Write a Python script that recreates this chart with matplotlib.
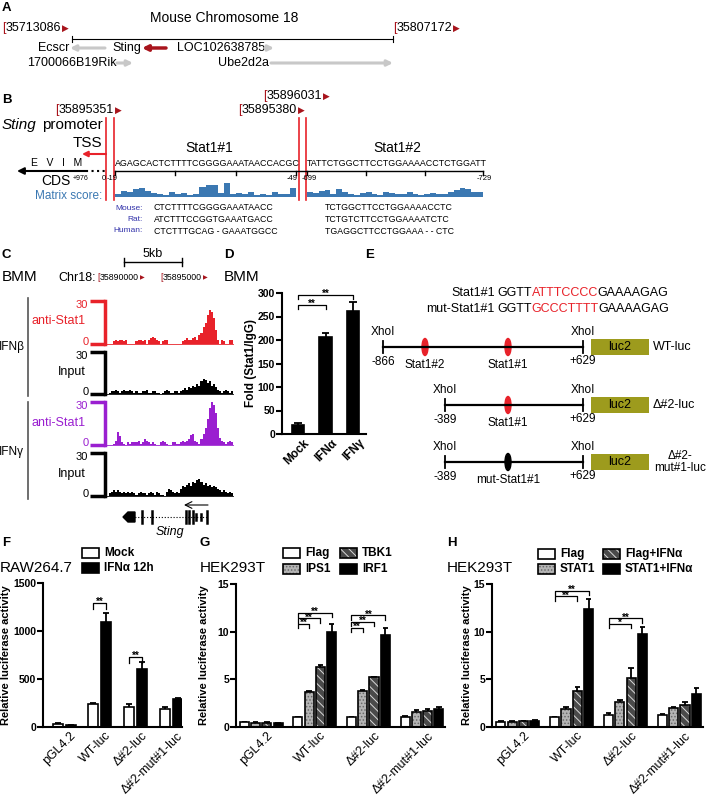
import numpy as np
import matplotlib
matplotlib.use('Agg')
import matplotlib.pyplot as plt
import matplotlib.patches as patches
import matplotlib.transforms as transforms

plt.rcParams['font.family'] = ['Liberation Sans', 'DejaVu Sans']
plt.rcParams['hatch.linewidth'] = 0.7

DRED = '#a8141c'
RED = '#e8222a'
BLUE = '#3b78b2'
PURPLE = '#9a1fd0'
GRAY = '#c8c8c8'
OLIVE = '#9d9b1d'
SPBLUE = '#3333aa'

#------------------------------ data
# panel A: genes around Sting on chr18
genes_A = ['Ecscr', 'Sting', 'LOC102638785', '1700066B19Rik', 'Ube2d2a']
genes_A_x = [38, 112, 177, 27, 218]
genes_A_y = [48, 48, 48, 63, 63]
genes_A_arrow = [(105, 70), (166, 142), (265, 274), (117, 133), (271, 393)]
genes_A_col = [GRAY, DRED, GRAY, GRAY, GRAY]

# panel B: matrix scores (relative) and sequences
score_site1 = [0.2, 0.35, 0.3, 0.5, 0.55, 0.35, 0.25, 0.2, 0.15, 0.3, 0.2, 0.25, 0.15, 0.2, 0.65,
               0.75, 0.75, 0.25, 0.85, 0.2, 0.25, 0.2, 0.3, 0.15, 0.2, 0.15, 0.3, 0.2, 0.2, 0.55]
score_site2 = [0.3, 0.25, 0.4, 0.45, 0.2, 0.5, 0.3, 0.2, 0.15, 0.25, 0.3, 0.2, 0.15, 0.3, 0.25,
               0.2, 0.2, 0.3, 0.2, 0.15, 0.2, 0.25, 0.2, 0.2, 0.3, 0.45, 0.55, 0.5, 0.3, 0.3]
seq_site1 = 'AGAGCACTCTTTTCGGGGAAATAACCACGC'
seq_site2 = 'TATTCTGGCTTCCTGGAAAACCTCTGGATT'
species = ['Mouse:', 'Rat:', 'Human:']
align_site1 = ['CTCTTTTCGGGGAAATAACC', 'ATCTTTCCGGTGAAATGACC', 'CTCTTTGCAG - GAAATGGCC']
align_site2 = ['TCTGGCTTCCTGGAAAACCTC', 'TCTGTCTTCCTGGAAAATCTC', 'TGAGGCTTCCTGGAAA - - CTC']

# panel C: ChIP-seq coverage (0-30)
chip_ifnb_stat1 = [0, 0, 0, 0, 2, 3, 2, 3, 3, 2, 3, 0, 0, 0, 0, 2, 3, 3, 2, 3, 0, 3, 4, 5, 4, 3, 2, 0, 2, 3, 3, 0,
                   0, 0, 0, 0, 0, 0, 2, 3, 4, 3, 3, 4, 5, 3, 6, 8, 12, 15, 20, 24, 22, 18, 10, 3, 0, 3, 2, 0, 0, 3, 3]
chip_ifnb_input = [0, 0, 1, 2, 2, 3, 2, 1, 2, 3, 2, 2, 3, 2, 1, 2, 1, 1, 2, 2, 3, 1, 1, 2, 2, 1, 1, 0, 1, 2, 3, 2,
                   1, 1, 2, 2, 1, 2, 3, 4, 3, 5, 4, 6, 5, 7, 6, 9, 11, 10, 8, 9, 6, 7, 5, 3, 2, 1, 2, 3, 2, 1, 2]
chip_ifng_stat1 = [0, 0, 0, 0, 1, 3, 9, 6, 2, 1, 0, 2, 1, 2, 2, 2, 3, 1, 2, 4, 3, 2, 1, 2, 1, 0, 0, 2, 3, 2, 1, 0,
                   0, 2, 2, 1, 1, 2, 3, 2, 3, 4, 7, 8, 3, 2, 1, 4, 8, 12, 18, 26, 30, 28, 22, 12, 5, 3, 2, 1, 2, 3, 2]
chip_ifng_input = [0, 0, 2, 3, 4, 3, 4, 3, 2, 3, 2, 3, 2, 3, 2, 1, 2, 3, 2, 2, 1, 2, 3, 2, 1, 3, 2, 1, 1, 0, 3, 5,
                   4, 3, 2, 3, 2, 5, 7, 6, 8, 9, 7, 10, 9, 11, 12, 10, 8, 9, 7, 8, 6, 7, 6, 5, 4, 3, 4, 3, 2, 3, 2]
sting_exons = [142, 152, 186, 189, 193, 196, 201, 207]

# panel D
cats_D = ['Mock', u'IFN\u03b1', u'IFN\u03b3']
fold_D = [20, 207, 262]
err_D = [3, 8, 18]

# panel E constructs
constr_names = ['WT-luc', u'\u0394#2-luc', u'\u0394#2-\nmut#1-luc']
constr_start = ['-866', '-389', '-389']

# panels F-H
reporters = ['pGL4.2', 'WT-luc', u'\u0394#2-luc', u'\u0394#2-mut#1-luc']
F_mock = [35, 235, 205, 185]
F_mock_err = [5, 20, 35, 25]
F_ifn = [20, 1090, 605, 295]
F_ifn_err = [3, 100, 70, 10]

G_flag = [0.5, 1.0, 1.0, 1.0]
G_flag_err = [0.05, 0.05, 0.05, 0.15]
G_ips1 = [0.45, 3.7, 3.8, 1.6]
G_ips1_err = [0.05, 0.1, 0.08, 0.2]
G_tbk1 = [0.45, 6.3, 5.2, 1.7]
G_tbk1_err = [0.05, 0.2, 0.05, 0.15]
G_irf1 = [0.4, 10.0, 9.6, 1.9]
G_irf1_err = [0.05, 0.8, 0.8, 0.25]

H_flag = [0.55, 1.0, 1.3, 1.3]
H_flag_err = [0.05, 0.05, 0.15, 0.1]
H_stat1 = [0.55, 1.9, 2.6, 2.0]
H_stat1_err = [0.05, 0.15, 0.25, 0.15]
H_flagifn = [0.6, 3.8, 5.1, 2.3]
H_flagifn_err = [0.05, 0.35, 1.1, 0.3]
H_stat1ifn = [0.65, 12.4, 9.8, 3.5]
H_stat1ifn_err = [0.05, 1.0, 0.7, 0.6]

#------------------------------ figure
W, H = 709, 798
fig = plt.figure(figsize=(W/100., H/100.), dpi=100)
ov = fig.add_axes([0, 0, 1, 1])
ov.set_xlim(0, W); ov.set_ylim(H, 0); ov.axis('off')
R = fig.canvas.get_renderer()

def px_axes(x0, y0, x1, y1):
    return fig.add_axes([x0/float(W), 1-y1/float(H), (x1-x0)/float(W), (y1-y0)/float(H)])

def txt(x, y, s, fs=9, **kw):
    kw.setdefault('va', 'center'); kw.setdefault('ha', 'left')
    return ov.text(x, y, s, fontsize=fs, **kw)

def pieces(x, y, parts, fs=9, **kw):
    for s, c in parts:
        t = txt(x, y, s, fs, color=c, **kw)
        x += t.get_window_extent(renderer=R).width
    return x

def coord(x, y, num, fs=9):
    x = pieces(x, y, [('[', DRED), (num, 'k')], fs)
    txt(x+1, y, u'\u25b6', fs*0.7, color=DRED, family='DejaVu Sans')

def arrow(x0, x1, y, c, lw=2, ms=8, style='-|>'):
    ov.annotate('', xy=(x1, y), xytext=(x0, y),
                arrowprops=dict(arrowstyle=style, color=c, lw=lw, shrinkA=0, shrinkB=0, mutation_scale=ms))

def letter(x, y, s):
    txt(x, y, s, 9.5, fontweight='bold')

#------------------------------ A
letter(2, 8, 'A')
txt(224, 18, 'Mouse Chromosome 18', 10, ha='center')
coord(2, 28, '35713086')
coord(393, 28, '35807172')
ov.plot([72, 393], [39, 39], 'k', lw=0.8)
for xx in (72, 393):
    ov.plot([xx, xx], [36, 42], 'k', lw=0.8)
for name, x, y, (a0, a1), c in zip(genes_A, genes_A_x, genes_A_y, genes_A_arrow, genes_A_col):
    txt(x, y, name, 9)
    arrow(a0, a1, y, c, lw=2.5 if c == DRED else 2.2, ms=8)

#------------------------------ B
letter(2, 100, 'B')
coord(263, 96, '35896031')
coord(55, 110, '35895351')
coord(238, 110, '35895380')
txt(2, 125, 'Sting', 11, style='italic')
txt(42, 125, 'promoter', 11)
txt(102, 143, 'TSS', 11, ha='right')
for xx in (106, 114, 299, 306):
    ov.plot([xx, xx], [118, 200], color=RED, lw=1.2)
arrow(106, 82, 154, RED, lw=1.5, ms=8)
txt(209, 148, 'Stat1#1', 10, ha='center')
txt(397, 148, 'Stat1#2', 10, ha='center')
txt(115, 164, seq_site1, 6.4)
txt(307, 164, seq_site2, 6.4)
ov.plot([115, 483], [171, 171], 'k', lw=1)
for xx in (115, 175, 236, 296, 307, 366, 425, 483):
    ov.plot([xx, xx], [171, 175], 'k', lw=1)
arrow(86, 17, 171, 'k', lw=1.5, ms=10)
ov.plot([86, 106], [171, 171], 'k', ls=':', lw=1.5)
txt(31, 163, 'E   V   I   M', 7.5)
txt(41, 181, 'CDS', 10)
txt(73, 178, '+976', 5)
txt(102, 179, '0', 5.5)
txt(107, 179, '-19', 5.5)
txt(298, 179, '-49', 5.5, ha='right')
txt(302, 179, '-699', 5.5)
txt(484, 179, '-729', 5.5, ha='center')
txt(35, 196, 'Matrix score:', 8.5, color=BLUE)
for sc, (x0, x1) in ((score_site1, (115, 296)), (score_site2, (307, 483))):
    axm = px_axes(x0, 181, x1, 197)
    axm.bar(np.arange(len(sc)), sc, width=1.0, color=BLUE, lw=0)
    axm.set_xlim(-0.5, len(sc)-0.5); axm.set_ylim(0, 1)
    axm.axis('off')
for i, sp in enumerate(species):
    y = 208 + i*11.5
    txt(143, y, sp, 6, color=SPBLUE, ha='right')
    txt(154, y, align_site1[i], 6.3)
    txt(325, y, align_site2[i], 6.3)

#------------------------------ C
letter(2, 255, 'C')
txt(153, 254, '5kb', 9, ha='center')
ov.plot([124, 182], [262, 262], 'k', lw=1)
for xx in (124, 182):
    ov.plot([xx, xx], [258, 266], 'k', lw=1)
txt(2, 277, 'BMM', 11)
txt(58, 278, 'Chr18:', 9)
coord(97, 278, '35890000', 6.3)
coord(160, 278, '35895000', 6.3)
ov.plot([28, 28], [298, 396], color='#555555', lw=1.2)
ov.plot([28, 28], [402, 499], color='#555555', lw=1.2)
txt(-1, 347, u'IFN\u03b2', 8.5)
txt(-1, 452, u'IFN\u03b3', 8.5)
tracks = [(chip_ifnb_stat1, RED, 'anti-Stat1', 301, 344),
          (chip_ifnb_input, 'k', 'Input', 352, 394),
          (chip_ifng_stat1, PURPLE, 'anti-Stat1', 402, 445),
          (chip_ifng_input, 'k', 'Input', 453, 496)]
up = transforms.ScaledTranslation(0, 2/72., fig.dpi_scale_trans)
down = transforms.ScaledTranslation(0, -2/72., fig.dpi_scale_trans)
for vals, c, lab, y0, y1 in tracks:
    ax = px_axes(105, y0, 233, y1)
    n = len(vals)
    ax.bar(np.arange(n), vals, width=1.0, color=c, lw=0)
    ax.set_xlim(-0.5, n-0.5); ax.set_ylim(0, 30)
    for s in ('top', 'right'):
        ax.spines[s].set_visible(False)
    ax.spines['left'].set_color(c); ax.spines['left'].set_linewidth(2.5)
    ax.spines['bottom'].set_color(c); ax.spines['bottom'].set_linewidth(0.6)
    ax.set_xticks([]); ax.set_yticks([0, 30])
    ax.tick_params(axis='y', length=11, width=2.5, color=c, labelcolor=c, labelsize=8, pad=1)
    tl = ax.get_yticklabels()
    tl[0].set_transform(tl[0].get_transform() + up)
    tl[1].set_transform(tl[1].get_transform() + down)
    ax.patch.set_alpha(0)
    txt(86, (y0+y1)/2.-1, lab, 9, color=c, ha='right')
# gene model
ov.plot([123, 208], [517, 517], 'k', lw=0.8, ls=':')
ov.add_patch(patches.Polygon([[123, 517], [128, 512], [135, 512], [135, 522], [128, 522]], closed=True, color='k'))
for i, xx in enumerate(sting_exons):
    h = 6 if i in (0, 1, 2, 3, 4, 7) else 3
    ov.plot([xx, xx], [517-h, 517+h], 'k', lw=1.8)
arrow(208, 184, 505, 'k', lw=0.8, ms=12, style='->')
txt(170, 532, 'Sting', 9, style='italic', ha='center')

#------------------------------ helpers for bar charts
def style_ax(ax, ylim, yticks, xlim, labels, fs=9):
    for s in ('top', 'right'):
        ax.spines[s].set_visible(False)
    for s in ('left', 'bottom'):
        ax.spines[s].set_linewidth(1.5)
    ax.set_ylim(ylim); ax.set_yticks(yticks); ax.set_xlim(xlim)
    ax.tick_params(axis='y', length=4, width=1.5, labelsize=7.5, pad=1)
    ax.tick_params(axis='x', length=0, labelsize=fs, pad=2)
    for l in ax.get_yticklabels():
        l.set_fontweight('bold')
    ax.set_xticks(np.arange(len(labels)))
    ax.set_xticklabels(labels, rotation=45, ha='right', rotation_mode='anchor')
    off = transforms.ScaledTranslation(4/72., 0, fig.dpi_scale_trans)
    for l in ax.get_xticklabels():
        l.set_transform(l.get_transform() + off)
    ax.patch.set_alpha(0)

HATCH = {'dots': ('#b4b4b4', '#6a6a6a', '.....'),
         'diag': ('#4a4a4a', '#d8d8d8', '\\\\\\\\')}

def bars(ax, x, vals, errs, style, w):
    vals = np.asarray(vals, float); errs = np.asarray(errs, float)
    if style == 'white':
        ax.bar(x, vals, w, facecolor='white', edgecolor='k', lw=1.2, zorder=2)
    elif style == 'black':
        ax.bar(x, vals, w, facecolor='k', edgecolor='k', lw=1.2, zorder=2)
    else:
        fc, hc, hatch = HATCH[style]
        ax.bar(x, vals, w, facecolor=fc, edgecolor=hc, hatch=hatch, lw=0, zorder=2)
        ax.bar(x, vals, w, fill=False, edgecolor='k', lw=1.2, zorder=3)
    ax.vlines(x, vals, vals+errs, color='k', lw=1.3, zorder=1)
    ax.hlines(vals+errs, x-w*0.3, x+w*0.3, color='k', lw=1.3, zorder=1)

def sig(ax, x1, x2, y, dy, s):
    ax.plot([x1, x1, x2, x2], [y-dy, y, y, y-dy], color='k', lw=0.9, clip_on=False)
    ax.annotate(s, xy=((x1+x2)/2., y), xytext=(0, -1.5), textcoords='offset points',
                ha='center', va='baseline', fontsize=7, fontweight='bold')

def legend_box(x, y, style, label):
    if style == 'white':
        ov.add_patch(patches.Rectangle((x, y-5), 17, 10, facecolor='white', edgecolor='k', lw=1.2))
    elif style == 'black':
        ov.add_patch(patches.Rectangle((x, y-5), 17, 10, facecolor='k', edgecolor='k', lw=1.2))
    else:
        fc, hc, hatch = HATCH[style]
        ov.add_patch(patches.Rectangle((x, y-5), 17, 10, facecolor=fc, edgecolor=hc, hatch=hatch, lw=0))
        ov.add_patch(patches.Rectangle((x, y-5), 17, 10, fill=False, edgecolor='k', lw=1.2))
    txt(x+22, y, label, 8.5, fontweight='bold')

#------------------------------ D
letter(224, 255, 'D')
txt(224, 277, 'BMM', 11)
axD = px_axes(282, 293, 366, 434)
xD = np.arange(len(cats_D))
bars(axD, xD, fold_D, err_D, 'black', 0.44)
style_ax(axD, (0, 300), np.arange(0, 301, 50), (-0.58, 2.47), cats_D, fs=8.5)
for l in axD.get_xticklabels():
    l.set_fontweight('bold')
sig(axD, 0, 1, 275, 8, '**')
sig(axD, 0, 2, 296, 8, '**')
txt(251, 363, 'Fold (Stat1/IgG)', 8.5, fontweight='bold', rotation=90, ha='center')

#------------------------------ E
letter(365, 255, 'E')
txt(495, 293, 'Stat1#1', 9, ha='right')
pieces(497, 293, [('GGTT', 'k'), ('ATTTCCCC', RED), ('GAAAAGAG', 'k')], 9)
txt(495, 309, 'mut-Stat1#1', 9, ha='right')
pieces(497, 309, [('GGTT', 'k'), ('GCCCTTTT', RED), ('GAAAAGAG', 'k')], 9)
rows_y = [347, 405, 462]
rows_x0 = [383, 445, 445]
rows_sites = [[(425, 'Stat1#2', RED), (508, 'Stat1#1', RED)],
              [(508, 'Stat1#1', RED)],
              [(508, 'mut-Stat1#1', 'k')]]
for y, x0, st, sites, name in zip(rows_y, rows_x0, constr_start, rows_sites, constr_names):
    ov.plot([x0, 583], [y, y], 'k', lw=1.6)
    for xx in (x0, 583):
        ov.plot([xx, xx], [y-6, y+6], 'k', lw=1.3)
        txt(xx, y-15, 'XhoI', 8.5, ha='center')
    txt(x0, y+15, st, 8.5, ha='center')
    txt(583, y+14, '+629', 8.5, ha='center')
    for sx, lab, c in sites:
        ov.add_patch(patches.Ellipse((sx, y), 6, 17, color=c))
        txt(sx, y+18, lab, 8.5, ha='center')
    ov.add_patch(patches.Rectangle((591, y-8), 58, 16, facecolor=OLIVE, edgecolor='none'))
    txt(620, y, 'luc2', 9, ha='center')
    if '\n' in name:
        txt(680, y, name, 8.5, ha='center', multialignment='center', linespacing=0.95)
    else:
        txt(653, y, name, 9)

#------------------------------ F
letter(2, 543, 'F')
txt(0, 568, 'RAW264.7', 11)
legend_box(82, 553, 'white', 'Mock')
legend_box(82, 568, 'black', u'IFN\u03b1 12h')
axF = px_axes(43, 583, 182, 727)
xF = np.arange(len(reporters))
bars(axF, xF-0.18, F_mock, F_mock_err, 'white', 0.28)
bars(axF, xF+0.18, F_ifn, F_ifn_err, 'black', 0.28)
style_ax(axF, (0, 1500), [0, 500, 1000, 1500], (-0.59, 3.3), reporters)
sig(axF, 1-0.18, 1+0.18, 1292, 60, '**')
sig(axF, 2-0.18, 2+0.18, 729, 60, '**')
txt(6, 655, 'Relative luciferase activity', 8, fontweight='bold', rotation=90, ha='center')

#------------------------------ G
letter(200, 543, 'G')
txt(200, 568, 'HEK293T', 11)
legend_box(283, 553, 'white', 'Flag')
legend_box(283, 569, 'dots', 'IPS1')
legend_box(340, 553, 'diag', 'TBK1')
legend_box(340, 569, 'black', 'IRF1')
axG = px_axes(236, 584, 445, 727)
xG = np.arange(len(reporters))
offs = np.array([-1.5, -0.5, 0.5, 1.5])*0.21
bars(axG, xG+offs[0], G_flag, G_flag_err, 'white', 0.17)
bars(axG, xG+offs[1], G_ips1, G_ips1_err, 'dots', 0.17)
bars(axG, xG+offs[2], G_tbk1, G_tbk1_err, 'diag', 0.17)
bars(axG, xG+offs[3], G_irf1, G_irf1_err, 'black', 0.17)
style_ax(axG, (0, 15), [0, 5, 10, 15], (-0.47, 3.43), reporters)
for g, ys in ((1, (12.0, 11.4, 10.8)), (2, (11.7, 11.0, 10.4))):
    sig(axG, g+offs[0], g+offs[3], ys[0], 0.45, '**')
    sig(axG, g+offs[0], g+offs[2], ys[1], 0.45, '**')
    sig(axG, g+offs[0], g+offs[1], ys[2], 0.45, '**')
txt(204, 655, 'Relative luciferase activity', 8, fontweight='bold', rotation=90, ha='center')

#------------------------------ H
letter(447, 543, 'H')
txt(447, 568, 'HEK293T', 11)
legend_box(538, 554, 'white', 'Flag')
legend_box(538, 569, 'dots', 'STAT1')
legend_box(603, 554, 'diag', u'Flag+IFN\u03b1')
legend_box(603, 569, 'black', u'STAT1+IFN\u03b1')
axH = px_axes(492, 584, 703, 727)
bars(axH, xG+offs[0], H_flag, H_flag_err, 'white', 0.17)
bars(axH, xG+offs[1], H_stat1, H_stat1_err, 'dots', 0.17)
bars(axH, xG+offs[2], H_flagifn, H_flagifn_err, 'diag', 0.17)
bars(axH, xG+offs[3], H_stat1ifn, H_stat1ifn_err, 'black', 0.17)
style_ax(axH, (0, 15), [0, 5, 10, 15], (-0.48, 3.44), reporters)
sig(axH, 1+offs[0], 1+offs[3], 14.3, 0.45, '**')
sig(axH, 1+offs[0], 1+offs[2], 13.7, 0.45, '**')
sig(axH, 2+offs[0], 2+offs[3], 11.4, 0.45, '**')
sig(axH, 2+offs[0], 2+offs[2], 10.8, 0.45, '*')
txt(467, 655, 'Relative luciferase activity', 8, fontweight='bold', rotation=90, ha='center')

fig.savefig('out.png', dpi=100)
